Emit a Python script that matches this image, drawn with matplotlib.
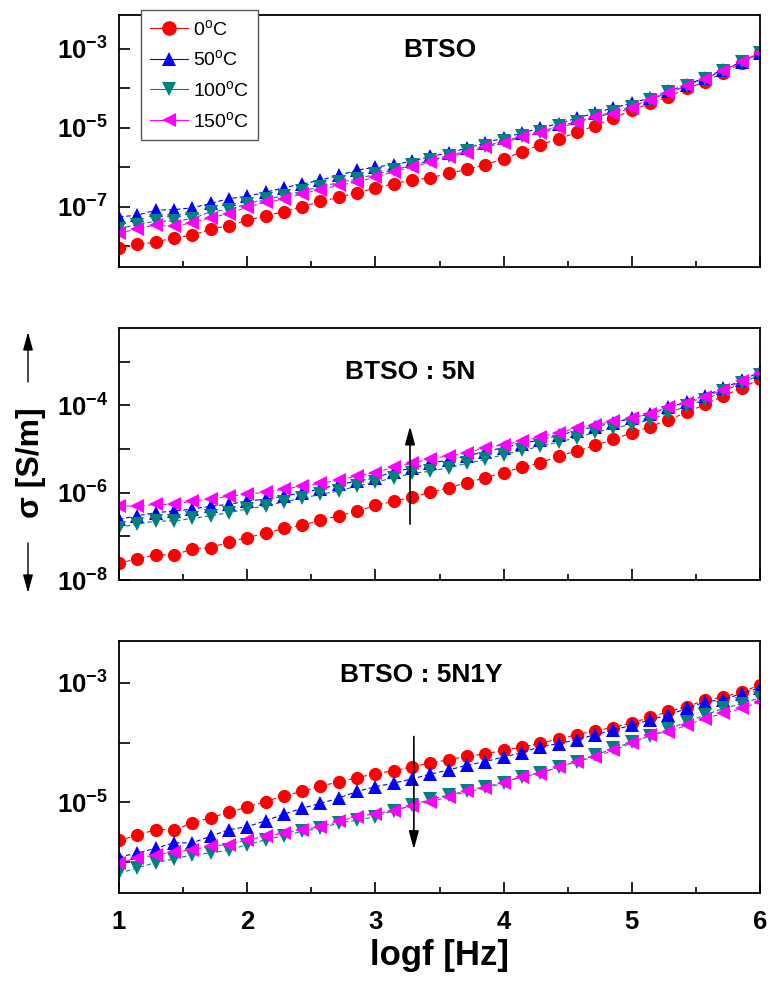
import numpy as np
import matplotlib
matplotlib.use("Agg")
import matplotlib.pyplot as plt
from matplotlib.lines import Line2D
from matplotlib.ticker import MultipleLocator, NullLocator

plt.rcParams['font.family'] = ['Liberation Sans', 'DejaVu Sans']
plt.rcParams['mathtext.fontset'] = 'custom'
plt.rcParams['mathtext.rm'] = 'Liberation Sans'
plt.rcParams['mathtext.bf'] = 'Liberation Sans:bold'
plt.rcParams['mathtext.it'] = 'Liberation Sans:italic'

# ---------- Data (log10 of sigma) ----------
logf = [1.000, 1.143, 1.286, 1.429, 1.571, 1.714, 1.857, 2.000, 2.143, 2.286, 2.429, 2.571,
        2.714, 2.857, 3.000, 3.143, 3.286, 3.429, 3.571, 3.714, 3.857, 4.000, 4.143, 4.286,
        4.429, 4.571, 4.714, 4.857, 5.000, 5.143, 5.286, 5.429, 5.571, 5.714, 5.857, 6.000]

labels = ["0$^{\\rm o}$C", "50$^{\\rm o}$C", "100$^{\\rm o}$C", "150$^{\\rm o}$C"]
colors = ["#FF0000", "#0000FF", "#008080", "#FF00FF"]
markers = ["o", "^", "v", "<"]

# BTSO
btso_0 = [-8.05, -7.95, -7.89, -7.78, -7.72, -7.56, -7.47, -7.34, -7.22, -7.12, -6.99, -6.86,
          -6.76, -6.64, -6.52, -6.41, -6.32, -6.26, -6.15, -6.05, -5.93, -5.78, -5.61, -5.42,
          -5.28, -5.11, -4.94, -4.75, -4.55, -4.38, -4.21, -4.00, -3.83, -3.60, -3.36, -3.11]
btso_50 = [-7.25, -7.21, -7.08, -7.07, -7.02, -6.91, -6.79, -6.73, -6.63, -6.51, -6.42, -6.32,
           -6.20, -6.07, -5.99, -5.93, -5.84, -5.72, -5.63, -5.51, -5.38, -5.25, -5.13, -5.00,
           -4.89, -4.75, -4.62, -4.49, -4.37, -4.24, -4.07, -3.90, -3.73, -3.52, -3.33, -3.09]
btso_100 = [-7.55, -7.45, -7.36, -7.36, -7.30, -7.12, -7.07, -6.92, -6.80, -6.72, -6.60, -6.49,
            -6.38, -6.29, -6.17, -6.06, -5.95, -5.82, -5.70, -5.59, -5.46, -5.34, -5.20, -5.09,
            -4.96, -4.84, -4.70, -4.60, -4.46, -4.28, -4.10, -3.93, -3.75, -3.55, -3.33, -3.10]
btso_150 = [-7.67, -7.55, -7.46, -7.49, -7.40, -7.27, -7.17, -7.00, -6.88, -6.81, -6.66, -6.56,
            -6.45, -6.37, -6.24, -6.11, -5.99, -5.86, -5.73, -5.63, -5.49, -5.38, -5.22, -5.13,
            -4.99, -4.88, -4.72, -4.64, -4.49, -4.28, -4.11, -3.94, -3.75, -3.55, -3.32, -3.09]

# BTSO : 5N
n5_0 = [-7.61, -7.52, -7.42, -7.43, -7.29, -7.26, -7.13, -7.03, -6.93, -6.82, -6.75, -6.63,
        -6.53, -6.43, -6.29, -6.20, -6.10, -5.99, -5.89, -5.77, -5.66, -5.54, -5.42, -5.32,
        -5.16, -5.05, -4.92, -4.78, -4.63, -4.49, -4.33, -4.16, -3.98, -3.79, -3.60, -3.40]
n5_50 = [-6.61, -6.53, -6.46, -6.42, -6.38, -6.31, -6.27, -6.19, -6.15, -6.08, -6.00, -5.92,
         -5.81, -5.74, -5.66, -5.52, -5.44, -5.33, -5.25, -5.16, -5.06, -4.97, -4.88, -4.79,
         -4.69, -4.58, -4.49, -4.40, -4.30, -4.19, -4.05, -3.92, -3.78, -3.61, -3.43, -3.24]
n5_100 = [-6.80, -6.72, -6.65, -6.65, -6.59, -6.53, -6.46, -6.37, -6.31, -6.21, -6.13, -6.04,
          -5.96, -5.85, -5.76, -5.66, -5.56, -5.51, -5.43, -5.33, -5.24, -5.13, -5.03, -4.94,
          -4.84, -4.74, -4.62, -4.52, -4.44, -4.33, -4.17, -4.02, -3.87, -3.68, -3.49, -3.30]
n5_150 = [-6.31, -6.31, -6.27, -6.27, -6.19, -6.15, -6.08, -6.04, -5.99, -5.92, -5.85, -5.79,
          -5.71, -5.62, -5.54, -5.42, -5.33, -5.22, -5.16, -5.09, -4.97, -4.90, -4.82, -4.72,
          -4.63, -4.52, -4.44, -4.37, -4.29, -4.19, -4.04, -3.95, -3.81, -3.64, -3.45, -3.26]

# BTSO : 5N1Y
n5y1_0 = [-5.64, -5.55, -5.46, -5.46, -5.35, -5.26, -5.17, -5.08, -4.99, -4.89, -4.82, -4.73,
          -4.66, -4.59, -4.52, -4.47, -4.41, -4.34, -4.29, -4.23, -4.19, -4.13, -4.08, -4.01,
          -3.94, -3.87, -3.80, -3.75, -3.67, -3.58, -3.48, -3.40, -3.29, -3.24, -3.15, -3.04]
n5y1_50 = [-5.92, -5.85, -5.77, -5.68, -5.68, -5.57, -5.46, -5.41, -5.31, -5.20, -5.10, -5.02,
           -4.93, -4.82, -4.74, -4.68, -4.61, -4.53, -4.46, -4.38, -4.32, -4.24, -4.17, -4.07,
           -4.02, -3.95, -3.87, -3.79, -3.71, -3.62, -3.54, -3.43, -3.32, -3.28, -3.18, -3.08]
n5y1_100 = [-6.19, -6.10, -6.01, -5.95, -5.88, -5.85, -5.80, -5.71, -5.63, -5.56, -5.49, -5.43,
            -5.35, -5.30, -5.24, -5.14, -5.05, -4.95, -4.88, -4.81, -4.74, -4.67, -4.57, -4.51,
            -4.41, -4.32, -4.21, -4.10, -3.99, -3.89, -3.78, -3.65, -3.54, -3.43, -3.35, -3.25]
n5y1_150 = [-6.01, -5.94, -5.88, -5.83, -5.80, -5.73, -5.71, -5.63, -5.57, -5.52, -5.46, -5.41,
            -5.32, -5.24, -5.19, -5.14, -5.06, -4.99, -4.91, -4.82, -4.77, -4.68, -4.57, -4.52,
            -4.41, -4.32, -4.24, -4.13, -4.01, -3.87, -3.82, -3.71, -3.60, -3.51, -3.43, -3.32]

panel_titles = ["BTSO", "BTSO : 5N", "BTSO : 5N1Y"]
panel_series = [[btso_0, btso_50, btso_100, btso_150],
                [n5_0, n5_50, n5_100, n5_150],
                [n5y1_0, n5y1_50, n5y1_100, n5y1_150]]
ylims_exp = [(-8.52, -2.14), (-8.0, -2.23), (-6.52, -2.30)]
yticks_exp = [[-8, -7, -6, -5, -4, -3], [-8, -7, -6, -5, -4, -3], [-6, -5, -4, -3]]
ylabels_exp = [[-7, -5, -3], [-8, -6, -4], [-5, -3]]
title_pos = [(0.50, 0.861), (0.455, 0.826), (0.471, 0.865)]
# trend arrows (logf, log10 sigma start -> end)
arrows = {1: (3.27, -6.72, -4.48), 2: (3.30, -3.90, -5.79)}

# ---------- Figure ----------
fig = plt.figure(figsize=(7.7, 9.84), dpi=100)
left, width, height = 119 / 770, 641 / 770, 252 / 984
bottoms = [1 - 267 / 984, 1 - 580 / 984, 1 - 893 / 984]

for i in range(3):
    ax = fig.add_axes([left, bottoms[i], width, height])
    for s, c, m, lab in zip(panel_series[i], colors, markers, labels):
        ax.plot(logf, 10.0 ** np.array(s), color=c, marker=m, markersize=9.5,
                linestyle=(0, (4, 2.5)), linewidth=0.8, markeredgewidth=0, label=lab)
    ax.set_yscale("log")
    ax.set_xlim(1, 6)
    ax.set_ylim(10.0 ** ylims_exp[i][0], 10.0 ** ylims_exp[i][1])
    ax.set_yticks([10.0 ** e for e in yticks_exp[i]])
    ax.set_yticklabels(["$\\mathbf{10^{%d}}$" % e if e in ylabels_exp[i] else ""
                        for e in yticks_exp[i]])
    ax.yaxis.set_minor_locator(NullLocator())
    ax.xaxis.set_major_locator(MultipleLocator(1))
    ax.xaxis.set_minor_locator(MultipleLocator(0.5))
    ax.tick_params(axis="both", which="major", direction="in", length=8, width=1.2,
                   labelsize=18.5, pad=8)
    ax.tick_params(axis="both", which="minor", direction="in", length=4, width=1.2)
    ax.tick_params(axis="x", pad=12)
    for sp in ax.spines.values():
        sp.set_linewidth(1.3)
    if i < 2:
        ax.set_xticklabels([])
    else:
        ax.set_xticklabels([str(int(v)) for v in ax.get_xticks()], fontweight="bold")
        ax.set_xlabel("logf [Hz]", fontsize=25, fontweight="bold", labelpad=4)
    ax.text(title_pos[i][0], title_pos[i][1], panel_titles[i], transform=ax.transAxes,
            ha="center", va="center", fontsize=19, fontweight="bold")
    if i in arrows:
        xa, y0, y1 = arrows[i]
        ax.annotate("", xy=(xa, 10.0 ** y1), xytext=(xa, 10.0 ** y0),
                    arrowprops=dict(arrowstyle="-|>,head_length=0.55,head_width=0.15",
                                    color="black", lw=1.2, mutation_scale=20,
                                    shrinkA=0, shrinkB=0))
    if i == 0:
        handles = [Line2D([], [], color=c, marker=m, markersize=10.5, linewidth=0.8,
                          markeredgewidth=0) for c, m in zip(colors, markers)]
        leg = ax.legend(handles, labels, loc="upper left", bbox_to_anchor=(0.034, 1.02),
                        borderaxespad=0, fontsize=14, frameon=True, fancybox=False,
                        framealpha=1, edgecolor="#555555", handlelength=2.0,
                        labelspacing=0.55, handletextpad=0.25, borderpad=0.45)
        leg.get_frame().set_linewidth(1.0)
        leg.set_zorder(10)

# y label with arrows
fig.text(31 / 770, 1 - 463 / 984, "σ [S/m]", rotation=90, ha="center", va="center",
         fontsize=23, fontweight="bold")
ax.annotate("", xy=(28 / 770, 1 - 332 / 984), xytext=(28 / 770, 1 - 382 / 984),
            xycoords="figure fraction", textcoords="figure fraction",
            arrowprops=dict(arrowstyle="-|>,head_length=0.55,head_width=0.15",
                            color="black", lw=1.0, mutation_scale=20, shrinkA=0, shrinkB=0))
ax.annotate("", xy=(28 / 770, 1 - 593 / 984), xytext=(28 / 770, 1 - 543 / 984),
            xycoords="figure fraction", textcoords="figure fraction",
            arrowprops=dict(arrowstyle="-|>,head_length=0.55,head_width=0.15",
                            color="black", lw=1.0, mutation_scale=20, shrinkA=0, shrinkB=0))

fig.savefig("out.png", dpi=100)
